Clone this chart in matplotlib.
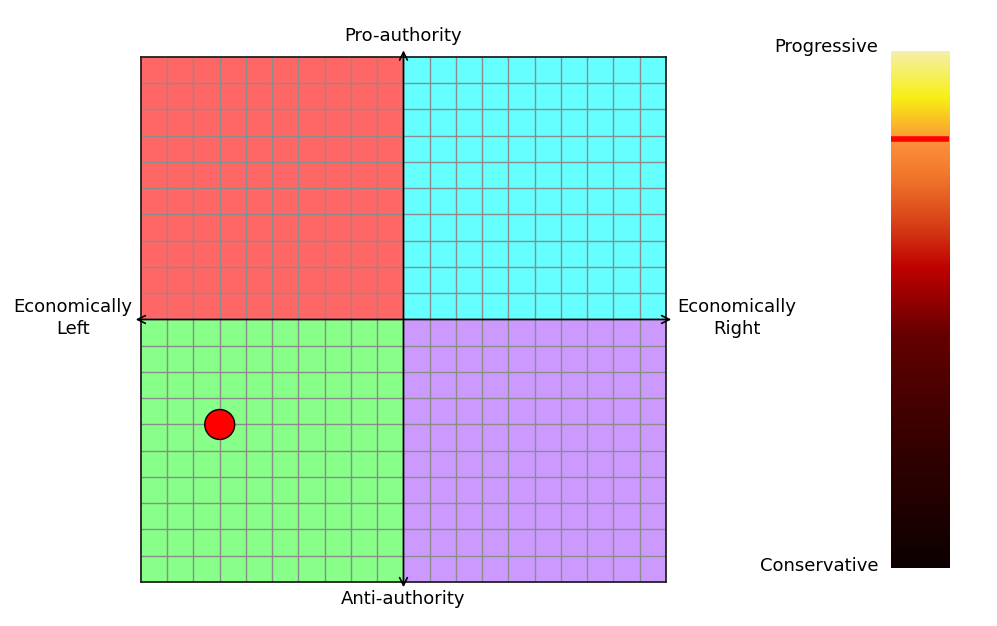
import matplotlib
matplotlib.use("Agg")
import matplotlib.pyplot as plt
import numpy as np
from matplotlib.colors import LinearSegmentedColormap

# quadrant fills: (x0, y0, colour)
quadrants = [(-10, 0, "#ff6666"), (0, 0, "#66ffff"),
             (-10, -10, "#88ff88"), (0, -10, "#cc99ff")]
economic = -7.0      # left / right
authority = -4.0     # anti / pro
social = 0.83        # position on progressive scale, 0..1

cmap = LinearSegmentedColormap.from_list("social", [
    (0.00, (0.05, 0.0, 0.0)),
    (0.20, (0.18, 0.0, 0.0)),
    (0.32, (0.27, 0.0, 0.0)),
    (0.45, (0.40, 0.0, 0.0)),
    (0.58, (0.75, 0.0, 0.0)),
    (0.66, (0.84, 0.24, 0.08)),
    (0.75, (0.94, 0.45, 0.17)),
    (0.82, (0.99, 0.56, 0.22)),
    (0.91, (0.97, 0.94, 0.08)),
    (1.00, (0.96, 0.94, 0.67)),
])

fig = plt.figure(figsize=(9.97, 6.26), dpi=100)
ax = fig.add_axes([0.1414, 0.0703, 0.5266, 0.8387])

for x0, y0, c in quadrants:
    ax.add_patch(plt.Rectangle((x0, y0), 10, 10, facecolor=c, edgecolor="none", zorder=0))

for v in range(-9, 10):
    ax.axvline(v, color="#8c8c8c", lw=1, zorder=1)
    ax.axhline(v, color="#8c8c8c", lw=1, zorder=1)

ax.set_xlim(-10, 10)
ax.set_ylim(-10, 10)
ax.set_xticks([])
ax.set_yticks([])
for s in ax.spines.values():
    s.set_linewidth(1.3)
    s.set_color("#222222")

arrow = dict(arrowstyle="<->", color="black", lw=1.2, mutation_scale=14, shrinkA=0, shrinkB=0)
ax.annotate("", xy=(10.2, 0), xytext=(-10.2, 0), arrowprops=arrow, annotation_clip=False, zorder=3)
ax.annotate("", xy=(0, 10.25), xytext=(0, -10.2), arrowprops=arrow, annotation_clip=False, zorder=3)

ax.add_patch(plt.Circle((economic, authority), 0.57, facecolor="red", edgecolor="black", lw=1, zorder=4))

fs = 13
ax.text(0, 10.45, "Pro-authority", ha="center", va="bottom", fontsize=fs)
ax.text(0, -10.3, "Anti-authority", ha="center", va="top", fontsize=fs)
ax.text(-12.6, 0.05, "Economically\nLeft", ha="center", va="center", fontsize=fs, linespacing=1.25)
ax.text(12.7, 0.05, "Economically\nRight", ha="center", va="center", fontsize=fs, linespacing=1.25)

cax = fig.add_axes([0.8937, 0.0927, 0.0582, 0.826])
grad = np.linspace(0, 1, 256).reshape(-1, 1)
cax.imshow(grad, aspect="auto", cmap=cmap, origin="lower", extent=(0, 1, 0, 1))
cax.axhline(social, color="red", lw=4)
cax.set_xlim(0, 1)
cax.set_ylim(0, 1)
cax.axis("off")

fig.text(878 / 997, 1 - 47 / 626, "Progressive", ha="right", va="center", fontsize=fs)
fig.text(878 / 997, 1 - 566 / 626, "Conservative", ha="right", va="center", fontsize=fs)

fig.savefig("out.png", dpi=100)
